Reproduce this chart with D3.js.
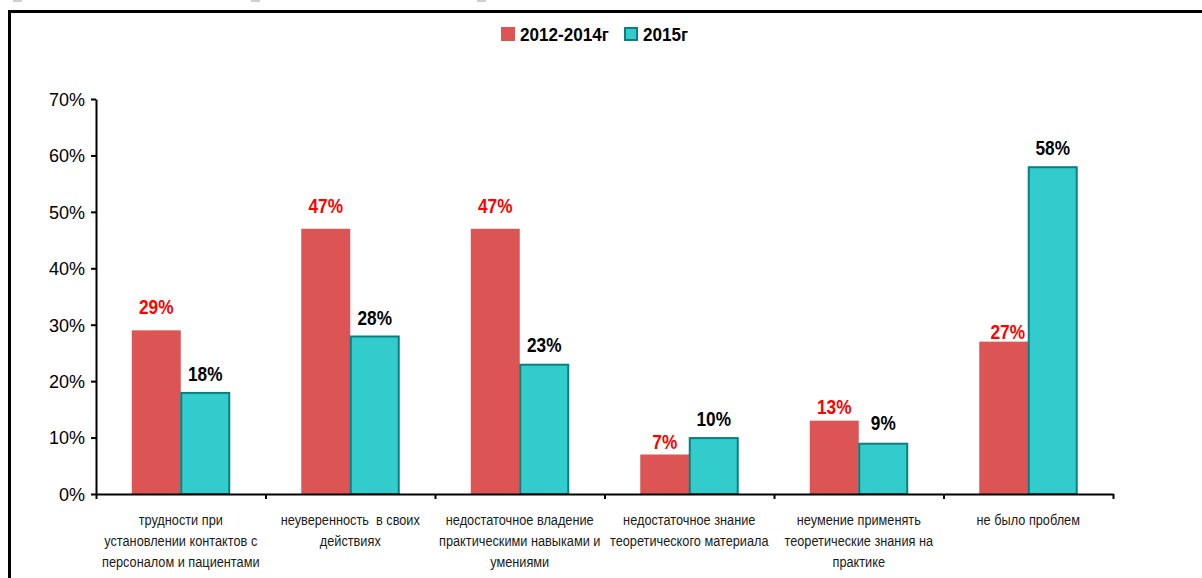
<!DOCTYPE html>
<html><head><meta charset="utf-8">
<script src="https://cdn.jsdelivr.net/npm/d3@7"></script>
<style>
html,body{margin:0;padding:0;background:#fff;}
svg{display:block;}
</style></head>
<body>
<svg id="chart" width="1202" height="578"></svg>
<script>
// ---- data ----
const categories = [
  ["трудности при", "установлении контактов с", "персоналом и пациентами"],
  ["неуверенность  в своих", "действиях"],
  ["недостаточное владение", "практическими навыками и", "умениями"],
  ["недостаточное знание", "теоретического материала"],
  ["неумение применять", "теоретические знания на", "практике"],
  ["не было проблем"]
];
const seriesNames = ["2012-2014г", "2015г"];
const values2012_2014 = [29, 47, 47, 7, 13, 27];
const values2015 = [18, 28, 23, 10, 9, 58];
const yTicks = [0, 10, 20, 30, 40, 50, 60, 70];

// label lift above bars (manual placements in original)
const labelLift = [[16, 16, 16, 6, 7, 3], [11, 11, 12, 12, 13, 12]];

const fills = ["#dc5454", "#33cccc"];
const strokes = ["none", "#0b7f80"];
const labelColors = ["#ff0000", "#000000"];
const FONT = "'Liberation Sans Narrow','Arial Narrow','Liberation Sans',Arial,sans-serif";

const svg = d3.select("#chart");
const x0 = 96, x1 = 1113, yTop = 99, yBot = 494;

// frame + small top artefacts
svg.append("rect").attr("x", 9.5).attr("y", 11.5).attr("width", 1400).attr("height", 800)
  .attr("fill", "none").attr("stroke", "#000").attr("stroke-width", 3);
[[13, 9], [251, 9], [477, 9]].forEach(([gx, gw]) => {
  svg.append("rect").attr("x", gx).attr("y", 0).attr("width", gw).attr("height", 2).attr("fill", "#d0d0d0");
});

const idx = d3.range(categories.length);
const x = d3.scaleBand().domain(idx).range([x0, x1]).paddingInner(0).paddingOuter(0);
const xs = d3.scaleBand().domain(d3.range(seriesNames.length)).range([0, x.bandwidth()]).paddingInner(0).paddingOuter(0.73);
const y = d3.scaleLinear().domain([0, 70]).range([yBot, yTop]);

// bars
const series = [values2012_2014, values2015];
series.forEach((vals, s) => {
  const g = svg.append("g");
  g.selectAll("rect").data(vals).enter().append("rect")
    .attr("x", (d, i) => x(i) + xs(s) + (s === 1 ? 0.5 : 0))
    .attr("y", d => y(d) + (s === 1 ? 0.5 : 0))
    .attr("width", xs.bandwidth() - (s === 1 ? 1 : 0))
    .attr("height", d => yBot - y(d) - (s === 1 ? 0.5 : 0))
    .attr("fill", fills[s])
    .attr("stroke", strokes[s])
    .attr("stroke-width", 2);
  g.selectAll("text").data(vals).enter().append("text")
    .attr("transform", (d, i) => {
      const cx = x(i) + xs(s) + xs.bandwidth() / 2 + (s === 0 && i === 5 ? 4 : 0);
      return `translate(${cx},${y(d) - labelLift[s][i]}) scale(0.82,1)`;
    })
    .attr("text-anchor", "middle")
    .attr("font-family", FONT)
    .attr("font-weight", "bold")
    .attr("font-size", 21)
    .attr("fill", labelColors[s])
    .text(d => d + "%");
});

// y axis
const yAxis = d3.axisLeft(y).tickValues(yTicks).tickFormat(d => d + "%").tickSize(5).tickSizeOuter(0);
const gy = svg.append("g").attr("transform", `translate(${x0},0)`).call(yAxis);
gy.select(".domain").attr("stroke", "#000").attr("stroke-width", 2);
gy.selectAll(".tick line").attr("stroke", "#000").attr("stroke-width", 2);
gy.selectAll(".tick text").attr("font-family", "'Liberation Sans',Arial,sans-serif")
  .attr("font-size", 18).attr("fill", "#000").attr("x", -11).attr("dy", "0.35em");

// x axis
const xb = d3.scaleLinear().domain([0, categories.length]).range([x0, x1]);
const xAxis = d3.axisBottom(xb).tickValues(d3.range(categories.length + 1)).tickFormat("").tickSize(5).tickSizeOuter(0);
const gx = svg.append("g").attr("transform", `translate(0,${yBot})`).call(xAxis);
gx.select(".domain").attr("stroke", "#000").attr("stroke-width", 2);
gx.selectAll(".tick line").attr("stroke", "#000").attr("stroke-width", 2);

// category labels
const cl = svg.append("g");
categories.forEach((lines, i) => {
  const cx = x(i) + x.bandwidth() / 2;
  lines.forEach((ln, k) => {
    cl.append("text")
      .attr("transform", `translate(${cx},${525 + k * 21}) scale(0.85,1)`)
      .attr("text-anchor", "middle")
      .attr("font-family", FONT)
      .attr("font-size", 15)
      .attr("fill", "#1a1a1a")
      .style("white-space", "pre")
      .text(ln);
  });
});

// legend
const lg = svg.append("g");
const legendItems = [{sx: 501, tx: 520}, {sx: 624, tx: 643}];
seriesNames.forEach((name, s) => {
  lg.append("rect").attr("x", legendItems[s].sx + (s === 1 ? 1 : 0)).attr("y", 27 + (s === 1 ? 1 : 0))
    .attr("width", 14 - (s === 1 ? 2 : 0)).attr("height", 14 - (s === 1 ? 2 : 0))
    .attr("fill", fills[s]).attr("stroke", strokes[s]).attr("stroke-width", 2);
  lg.append("text").attr("transform", `translate(${legendItems[s].tx},41) scale(0.9,1)`)
    .attr("font-family", FONT)
    .attr("font-weight", "bold").attr("font-size", 19).attr("fill", "#000")
    .text(name);
});
</script>
</body></html>
